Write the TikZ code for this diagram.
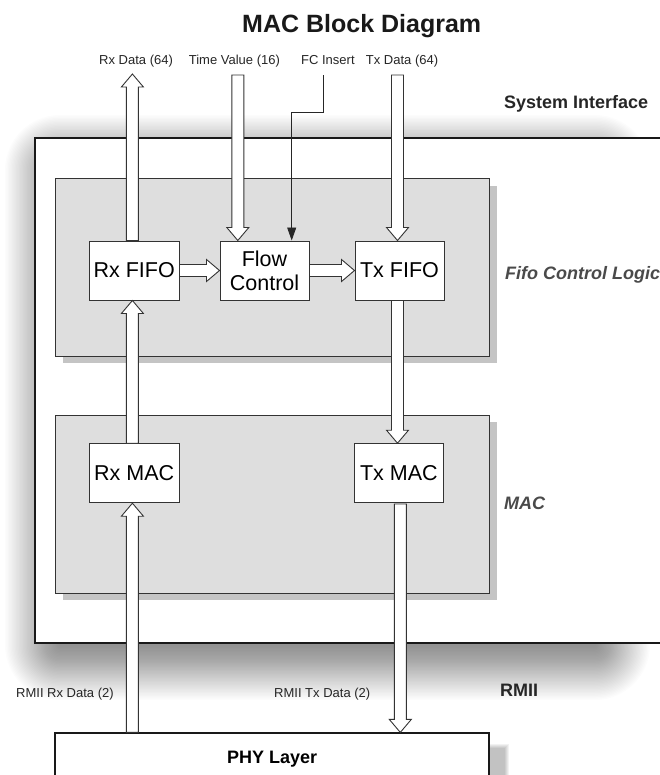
\documentclass[tikz,border=0pt]{standalone}
\usepackage{fontspec}
\setmainfont{Liberation Sans}
\usetikzlibrary{calc,arrows.meta}
\definecolor{linegrey}{HTML}{333333}
\definecolor{panelgrey}{HTML}{DEDEDE}
\definecolor{panelshadow}{HTML}{C4C4C4}
\definecolor{labelgrey}{HTML}{4A4A4A}
\newcommand{\fatarr}[2]{%
  \path (#1) coordinate (fs) (#2) coordinate (ft);
  \coordinate (fh) at ($(ft)!13bp!(fs)$);
  \draw[fatline] ($(fs)!6bp!90:(ft)$) -- ($(fh)!6bp!-90:(fs)$) -- ($(fh)!11bp!-90:(fs)$) -- (ft)
     -- ($(fh)!11bp!90:(fs)$) -- ($(fh)!6bp!90:(fs)$) -- ($(fs)!6bp!-90:(ft)$) -- cycle;
}
\begin{document}
\begin{tikzpicture}[x=1bp,y=-1bp,
  greybox/.style={draw=linegrey, fill=panelgrey, line width=1bp},
  outerbox/.style={draw=black!90, fill=white, line width=1.8bp},
  wbox/.style={draw=linegrey, fill=white, line width=1bp, inner sep=0pt,
     minimum height=59bp, align=center, font=\fontsize{21.5bp}{24bp}\selectfont},
  phybox/.style={draw=black!90, fill=white, line width=1.8bp, inner sep=0pt,
     font=\bfseries\fontsize{18bp}{21bp}\selectfont},
  fatline/.style={draw=linegrey, fill=white, line width=0.9bp, line join=miter},
  thinline/.style={draw=black!85, line width=0.9bp},
  small/.style={anchor=base west, inner sep=0pt, text=black!85, font=\fontsize{13bp}{15bp}\selectfont},
  head/.style={anchor=base west, inner sep=0pt, text=black!85, font=\bfseries\fontsize{18bp}{21bp}\selectfont},
  ital/.style={anchor=base west, inner sep=0pt, text=labelgrey, font=\bfseries\itshape\fontsize{18bp}{21bp}\selectfont}]
\clip (0,0) rectangle (660,775);
\fill[white] (0,0) rectangle (660,775);

% blurred shadow of the system box
\foreach \i in {0,...,39} {
  \pgfmathsetmacro\e{55-1.375*\i}
  \fill[black, opacity=0.0115, rounded corners=\e bp] (60-\e,170-\e) rectangle (595+\e,645+\e);
}
\draw[outerbox] (35,137.7) rectangle (700,643.3);

% grey panels
\fill[panelshadow] (63,185.5) rectangle (497,363);
\draw[greybox] (55.7,178.7) rectangle (489,356);
\fill[panelshadow] (63,422) rectangle (497,600);
\draw[greybox] (55.5,415.3) rectangle (489,593.3);

% PHY shadow
\foreach \d in {0,...,4} {
  \fill[black, opacity=0.05] (489,744+\d) rectangle (509-\d,790);
}

% blocks
\node[wbox, minimum width=89.7bp] (rxfifo) at (134.15,270.5) {Rx FIFO};
\node[wbox, minimum width=89bp] (flow) at (264.5,270.5) {Flow\\Control};
\node[wbox, minimum width=89bp] (txfifo) at (399.5,270.5) {Tx FIFO};
\node[wbox, minimum width=89.7bp] (rxmac) at (134.15,473.2) {Rx MAC};
\node[wbox, minimum width=89.7bp] (txmac) at (398.85,473.2) {Tx MAC};
\node[phybox, minimum width=433.7bp, minimum height=52bp] (phy) at (272.15,759.3) {PHY Layer};

% free ends
\coordinate (rxd) at (132.4,74);
\coordinate (tv) at (237.8,75);
\coordinate (txd) at (397.5,75);
\coordinate (txout) at (400.3,504);
\coordinate (fc) at (323.3,75);
\coordinate (fcb) at (323.3,112.3);
\coordinate (fcx) at (291.7,0);

% wide arrows
\fatarr{rxfifo.north -| rxd}{rxd}
\fatarr{tv}{flow.north -| tv}
\fatarr{txd}{txfifo.north -| txd}
\fatarr{rxfifo.east}{flow.west}
\fatarr{flow.east}{txfifo.west}
\fatarr{txfifo.south -| txd}{txmac.north -| txd}
\fatarr{rxmac.north -| rxd}{rxfifo.south -| rxd}
\fatarr{phy.north -| rxd}{rxmac.south -| rxd}
\fatarr{txout}{phy.north -| txout}

% FC insert line
\draw[thinline, -{Triangle[length=13bp,width=9bp]}] (fc) -- (fcb) -| (flow.north -| fcx);

% texts
\node[anchor=base, inner sep=0pt, text=black!90, font=\bfseries\fontsize{25bp}{30bp}\selectfont] (title) at (361.7,33) {MAC Block Diagram};
\node[small] (l1) at (99,65) {Rx Data (64)};
\node[small] (l2) at (188.7,65) {Time Value (16)};
\node[small] (l3) at (301,65) {FC Insert};
\node[small] (l4) at (365.7,65) {Tx Data (64)};
\node[head] (sysif) at (504,108) {System Interface};
\node[ital] (fcl) at (505,279.5) {Fifo Control Logic};
\node[ital] (macl) at (504,509.5) {MAC};
\node[head] (rmii) at (500,696.5) {RMII};
\node[small] (rrx) at (16,697) {RMII Rx Data (2)};
\node[small] (rtx) at (274,697) {RMII Tx Data (2)};
\end{tikzpicture}
\end{document}
